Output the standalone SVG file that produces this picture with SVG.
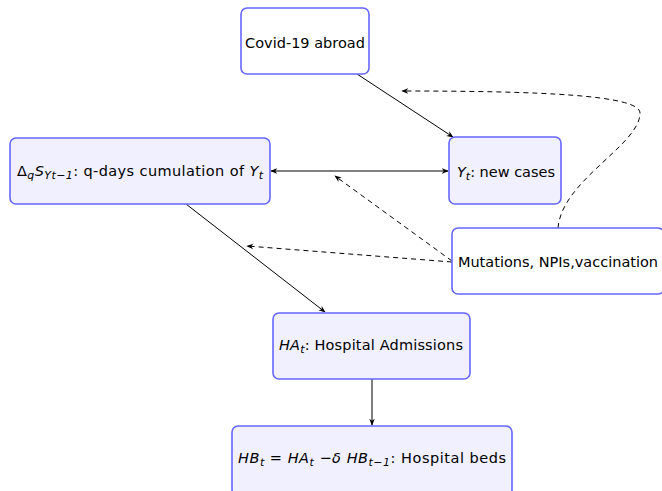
<svg xmlns="http://www.w3.org/2000/svg" width="662" height="491" viewBox="0 0 662 491">
<style>
.box{stroke:#6666ff;stroke-width:1.6}
.w{fill:#ffffff}
.b{fill:#f0f0ff}
text{font-family:"DejaVu Sans","Liberation Sans",sans-serif;font-size:14.5px;fill:#000}
.m{font-style:italic}
.s{font-size:11px}
.c{fill:none;stroke:#000;stroke-width:1}
.d{stroke-dasharray:5,4}
</style>
<defs>
<marker id="a" viewBox="0 0 10 10" refX="9" refY="5" markerWidth="7" markerHeight="7" orient="auto-start-reverse" markerUnits="userSpaceOnUse">
<path d="M0,1 L10,5 L0,9 L3,5 Z" fill="#000"/>
</marker>
</defs>
<rect width="662" height="491" fill="#fff"/>
<g id="connectors">
<line class="c" x1="357" y1="74" x2="453" y2="137" marker-end="url(#a)"/>
<line class="c" x1="271" y1="171" x2="448" y2="171" marker-start="url(#a)" marker-end="url(#a)"/>
<line class="c" x1="186" y1="204" x2="325" y2="312" marker-end="url(#a)"/>
<line class="c" x1="372" y1="379" x2="372" y2="425" marker-end="url(#a)"/>
<line class="c d" x1="452" y1="261" x2="335" y2="176" marker-end="url(#a)"/>
<line class="c d" x1="452" y1="262" x2="247" y2="246" marker-end="url(#a)"/>
<path class="c d" d="M558,228 C562,180 640,145 640,113 C640,95 540,91 402,91" marker-end="url(#a)"/>
</g>
<g id="covid">
<rect class="box w" x="241" y="8" width="128" height="66" rx="6"/>
<text x="305" y="48" text-anchor="middle">Covid-19 abroad</text>
</g>
<g id="cumul">
<rect class="box b" x="10" y="138" width="260" height="66" rx="6"/>
<text x="17" y="176" textLength="246" lengthAdjust="spacing">Δ<tspan class="m s" dy="3">q</tspan><tspan class="m" dy="-3">S</tspan><tspan class="m s" dy="3">Yt−1</tspan><tspan dy="-3">:  q-days cumulation of </tspan><tspan class="m">Y</tspan><tspan class="m s" dy="3">t</tspan></text>
</g>
<g id="newcases">
<rect class="box b" x="449" y="137" width="112" height="67" rx="6"/>
<text x="457" y="177" textLength="98" lengthAdjust="spacing"><tspan class="m">Y</tspan><tspan class="m s" dy="3">t</tspan><tspan dy="-3">:  new cases</tspan></text>
</g>
<g id="mutations">
<rect class="box w" x="452" y="228" width="212" height="66" rx="6"/>
<text x="558" y="267" text-anchor="middle">Mutations, NPIs,vaccination</text>
</g>
<g id="admissions">
<rect class="box b" x="273" y="313" width="197" height="66" rx="6"/>
<text x="279" y="350" textLength="184" lengthAdjust="spacing"><tspan class="m">HA</tspan><tspan class="m s" dy="3">t</tspan><tspan dy="-3">: Hospital Admissions</tspan></text>
</g>
<g id="beds">
<rect class="box b" x="232" y="426" width="280" height="70" rx="6"/>
<text x="238" y="463" textLength="268" lengthAdjust="spacing"><tspan class="m">HB</tspan><tspan class="m s" dy="3">t</tspan><tspan dy="-3"> = </tspan><tspan class="m">HA</tspan><tspan class="m s" dy="3">t</tspan><tspan dy="-3"> −</tspan><tspan class="m">δ HB</tspan><tspan class="m s" dy="3">t−1</tspan><tspan dy="-3">: Hospital beds</tspan></text>
</g>
</svg>
